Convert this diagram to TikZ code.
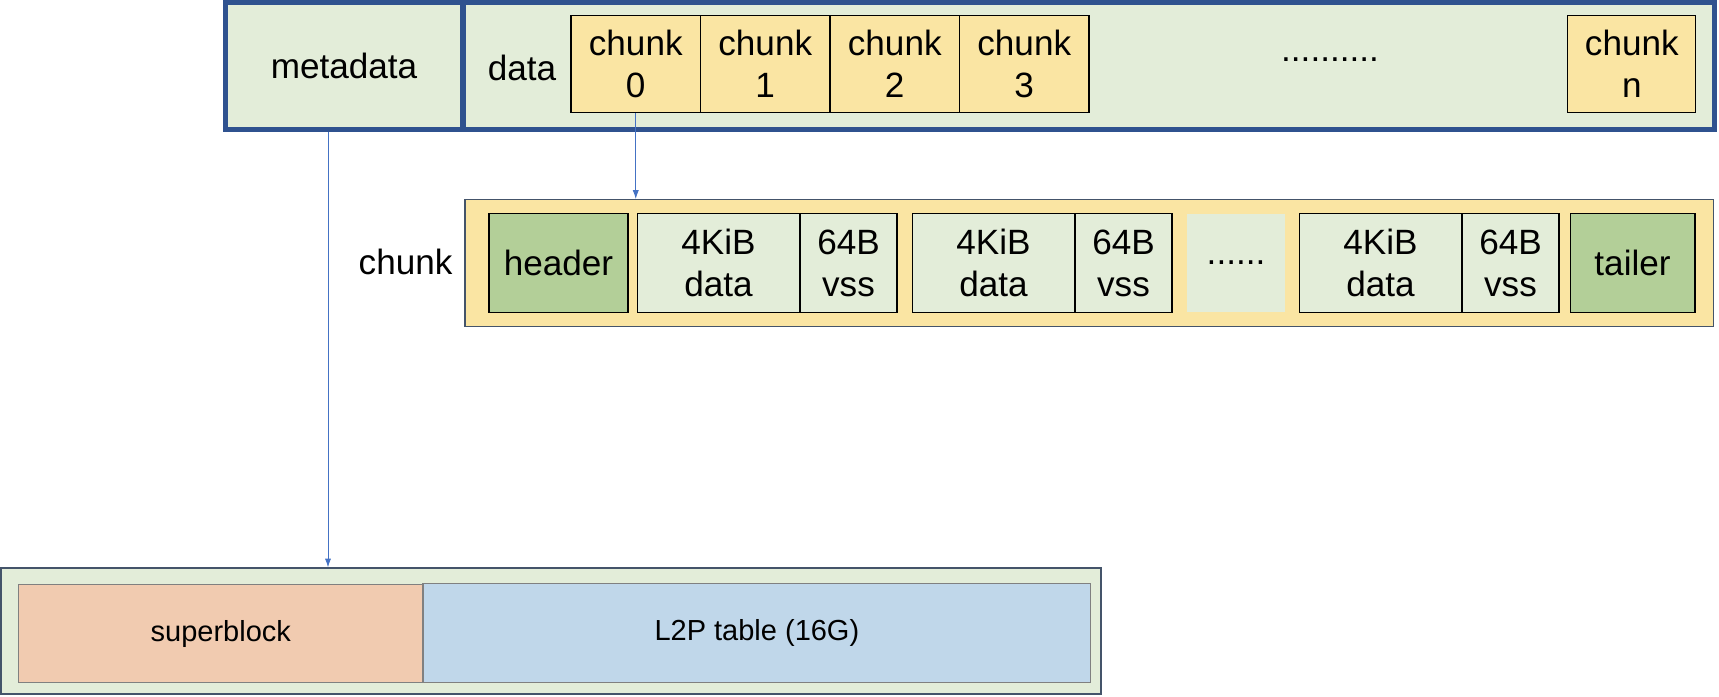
\documentclass[tikz,border=0pt]{standalone}
\usepackage{fontspec}
\setmainfont{Liberation Sans}
\usetikzlibrary{arrows.meta}

\definecolor{frameblue}{RGB}{47,82,143}
\definecolor{slate}{RGB}{68,84,106}
\definecolor{lgreen}{RGB}{227,237,217}
\definecolor{dgreen}{RGB}{179,207,152}
\definecolor{yel}{RGB}{250,229,163}
\definecolor{peach}{RGB}{241,203,176}
\definecolor{lblue}{RGB}{192,215,234}
\definecolor{arrowc}{RGB}{68,114,196}

\begin{document}
\begin{tikzpicture}[x=0.02cm,y=-0.02cm,
	font=\fontsize{20}{24}\selectfont,
	every node/.style={inner sep=0pt,align=center},
	thick frame/.style={draw=frameblue,line width=2.85pt,fill=lgreen,minimum height=2.54cm},
	outer/.style={draw=slate,line width=0.7pt},
	cell/.style={draw=black,line width=0.6pt,minimum height=1.97cm},
	low/.style={draw=gray,line width=0.7pt,minimum height=1.97cm,font=\fontsize{16.5}{20}\selectfont},
	arr/.style={draw=arrowc,line width=0.5pt,-{Latex[length=5pt,width=3.5pt]}}]

	\useasboundingbox (0,0) rectangle (1719,696);

	\node[thick frame,minimum width=4.76cm]  (meta) at (344,66)     {metadata};
	\node[thick frame,minimum width=25.03cm] (data) at (1088.75,66) {};
	\node (datalbl) at (522,68) {data};

	\foreach \i in {0,...,3}
		\node[cell,fill=yel,minimum width=2.59cm,minimum height=1.95cm] (c\i) at (635.75+129.5*\i,64) {chunk\\\i};
	\node (cdots) at (1330,60) {..........};
	\node[cell,fill=yel,minimum width=2.56cm,minimum height=1.95cm] (cn) at (1631.8,64) {chunk\\n};

	\node[outer,fill=yel,minimum width=24.97cm,minimum height=2.54cm] (chunk) at (1089.2,263.1) {};
	\node (chunklbl) at (405.6,262) {chunk};
	\node[cell,fill=dgreen,minimum width=2.78cm] (header) at (558.5,263.1) {header};
	\foreach \s/\i in {637/1,912/2,1299/3} {
		\node[cell,fill=lgreen,minimum width=3.26cm] (d\i) at (\s+81.5,263.1)  {4KiB\\data};
		\node[cell,fill=lgreen,minimum width=1.94cm] (v\i) at (\s+211.5,263.1) {64B\\vss};
	}
	\node[fill=lgreen,minimum width=1.96cm,minimum height=1.97cm] (mdots) at (1236,263.1) {......};
	\node[cell,fill=dgreen,minimum width=2.5cm] (tailer) at (1632.5,263.1) {tailer};

	\node[outer,fill=lgreen,minimum width=22cm,minimum height=2.52cm] (meta box) at (551,631) {};
	\node[low,fill=peach,minimum width=8.09cm] (sb)  at (220.8,633.5) {superblock};
	\node[low,fill=lblue,minimum width=13.36cm] (l2p) at (756.9,633) {L2P table (16G)};

	\path[arr] (c0.south) -- (c0.south |- chunk.north);
	\path[arr] ([xshift=-0.32cm]meta.south) -- ([xshift=-0.32cm]meta.south |- meta box.north);

\end{tikzpicture}
\end{document}
